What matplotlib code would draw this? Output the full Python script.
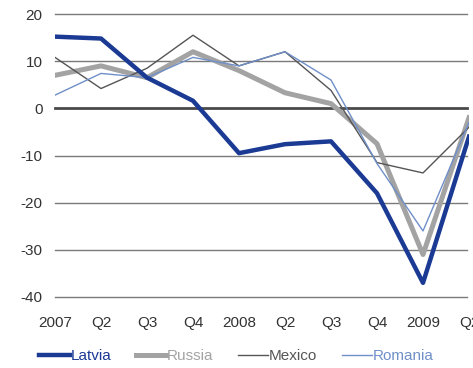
import matplotlib
matplotlib.use("Agg")
import matplotlib.pyplot as plt

plt.rcParams["font.family"] = ["Liberation Sans", "DejaVu Sans"]
plt.rcParams["axes.unicode_minus"] = False

quarters = ["2007", "Q2", "Q3", "Q4", "2008", "Q2", "Q3", "Q4", "2009", "Q2"]
latvia = [15.2, 14.8, 6.5, 1.6, -9.5, -7.6, -7.0, -18.0, -37.0, -6.0]
russia = [7.0, 9.0, 6.5, 12.0, 8.0, 3.3, 1.0, -7.5, -31.0, -2.0]
mexico = [10.8, 4.2, 8.5, 15.5, 9.0, 12.0, 3.8, -11.5, -13.7, -4.0]
romania = [2.8, 7.4, 6.5, 10.8, 9.0, 12.0, 6.0, -11.7, -26.0, -3.0]
yticks = [20, 10, 0, -10, -20, -30, -40]

fig = plt.figure(figsize=(4.73, 3.68), dpi=100)
ax = fig.add_axes([55 / 473, 1 - 297 / 368, 414 / 473, 283 / 368])

for y in yticks:
    if y == 0:
        ax.axhline(y, xmax=0.995, color="#4a4a4a", lw=2.0, zorder=1, clip_on=False)
    else:
        ax.axhline(y, xmax=0.995, color="#7a7a7a", lw=1.0, zorder=1, clip_on=False)

x = range(len(quarters))
ax.plot(x, latvia, color="#1b3a94", lw=3.2, label="Latvia", zorder=5, solid_joinstyle="round")
ax.plot(x, russia, color="#a3a3a3", lw=3.6, label="Russia", zorder=3, solid_joinstyle="round")
ax.plot(x, mexico, color="#555555", lw=1.0, label="Mexico", zorder=4)
ax.plot(x, romania, color="#6f8fc8", lw=1.0, label="Romania", zorder=4)

ax.set_xlim(0, 9)
ax.set_ylim(-40, 20)
ax.set_yticks(yticks)
ax.set_xticks(list(x))
ax.set_xticklabels(quarters)
ax.tick_params(length=0, labelsize=11, colors="#333333")
ax.tick_params(axis="x", pad=14)
ax.tick_params(axis="y", pad=9)
for s in ax.spines.values():
    s.set_visible(False)

leg = fig.legend(loc="lower center", bbox_to_anchor=(0.5, -0.025), ncol=4, frameon=False,
                 fontsize=11, handlelength=2.0, handletextpad=0.05, columnspacing=1.6,
                 labelcolor="linecolor")

fig.savefig("out.png", dpi=100)
